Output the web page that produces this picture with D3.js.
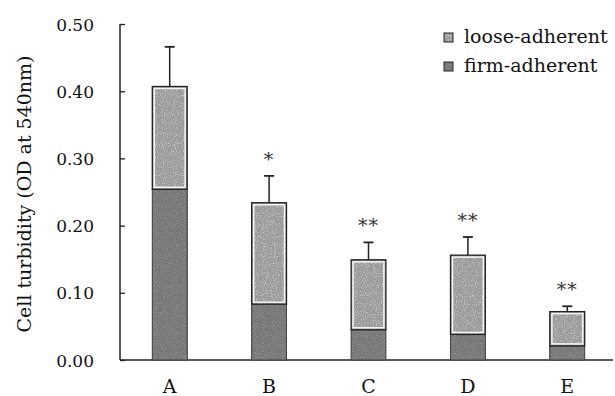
<!DOCTYPE html>
<html>
<head>
<meta charset="utf-8">
<script src="https://cdn.jsdelivr.net/npm/d3@7"></script>
<style>
body { margin: 0; background: #fff; }
</style>
</head>
<body>
<div class="container"></div>
<script>
const groups = ['A', 'B', 'C', 'D', 'E'];
const firmAdherent = [0.254, 0.083, 0.045, 0.038, 0.021];
const looseAdherent = [0.153, 0.151, 0.104, 0.118, 0.051];
const errors = [0.059, 0.040, 0.026, 0.027, 0.008];
const marks = ['', '*', '**', '**', '**'];
const yTicks = [0, 0.1, 0.2, 0.3, 0.4, 0.5];
const seriesNames = ['loose-adherent', 'firm-adherent'];

const WIDTH = 615;
const HEIGHT = 396;
const LEFT = 120, RIGHT = 617, TOP = 24, BOTTOM = 360;
const FONT = '"DejaVu Serif", "Liberation Serif", serif';

var svg = d3.select('.container').append('svg')
	.attr('width', WIDTH)
	.attr('height', HEIGHT)
	.attr('font-family', FONT);

// speckled textures
var defs = svg.append('defs');
var makeNoise = function(id, base, seed, amt){
	var f = defs.append('filter').attr('id', id)
		.attr('x', 0).attr('y', 0).attr('width', 1).attr('height', 1);
	f.append('feFlood').attr('flood-color', base).attr('result', 'base');
	f.append('feTurbulence').attr('type', 'fractalNoise')
		.attr('baseFrequency', 0.9).attr('numOctaves', 2).attr('seed', seed).attr('result', 'noise');
	f.append('feColorMatrix').attr('in', 'noise').attr('type', 'matrix')
		.attr('values', '0 0 0 0 1  0 0 0 0 1  0 0 0 0 1  ' + (amt) + ' 0 0 0 ' + (-amt / 2))
		.attr('result', 'spk');
	f.append('feComposite').attr('in', 'spk').attr('in2', 'base').attr('operator', 'over');
};
makeNoise('noiseLoose', '#9a9a9a', 3, 1.4);
makeNoise('noiseFirm', '#777777', 7, 0.5);

var xScale = d3.scaleBand()
	.domain(groups)
	.range([LEFT, RIGHT])
	.paddingInner(0.65)
	.paddingOuter(0.325);

var yScale = d3.scaleLinear()
	.domain([0, 0.5])
	.range([BOTTOM, TOP]);

var yAxis = d3.axisRight(yScale)
	.tickValues(yTicks)
	.tickSize(5)
	.tickFormat(d3.format('.2f'));

var yg = svg.append('g')
	.attr('transform', 'translate(' + LEFT + ',0)')
	.call(yAxis)
	.attr('font-family', FONT)
	.attr('font-size', 17);
yg.select('.domain').remove();
yg.selectAll('line').attr('stroke', '#222').attr('stroke-width', 1.3);
yg.selectAll('text')
	.attr('x', -26)
	.attr('text-anchor', 'end')
	.attr('dy', '0.36em')
	.attr('fill', '#111');

svg.append('line')
	.attr('x1', LEFT).attr('x2', LEFT)
	.attr('y1', yScale(0.5)).attr('y2', BOTTOM)
	.attr('stroke', '#222').attr('stroke-width', 1.5);

svg.append('line')
	.attr('x1', LEFT).attr('x2', 613)
	.attr('y1', BOTTOM).attr('y2', BOTTOM)
	.attr('stroke', '#222').attr('stroke-width', 1.5);

// x labels
svg.selectAll('.xlab').data(groups).enter().append('text')
	.attr('class', 'xlab')
	.attr('x', function(d){ return xScale(d) + xScale.bandwidth() / 2; })
	.attr('y', 393)
	.attr('text-anchor', 'middle')
	.attr('font-size', 19)
	.attr('fill', '#111')
	.text(function(d){ return d; });

// y label
svg.append('text')
	.attr('transform', 'translate(31,' + ((TOP + BOTTOM) / 2 + 2) + ') rotate(-90)')
	.attr('text-anchor', 'middle')
	.attr('font-size', 19)
	.attr('fill', '#111')
	.text('Cell turbidity (OD at 540nm)');

var data = groups.map(function(g, i){
	return { g: g, firm: firmAdherent[i], loose: looseAdherent[i], err: errors[i], mark: marks[i] };
});

var bars = svg.selectAll('.bar').data(data).enter().append('g').attr('class', 'bar');
var bw = xScale.bandwidth();

// firm segment
bars.append('rect')
	.attr('x', function(d){ return xScale(d.g); })
	.attr('y', function(d){ return yScale(d.firm); })
	.attr('width', bw)
	.attr('height', function(d){ return BOTTOM - yScale(d.firm); })
	.attr('filter', 'url(#noiseFirm)');
bars.append('rect')
	.attr('x', function(d){ return xScale(d.g); })
	.attr('y', function(d){ return yScale(d.firm); })
	.attr('width', bw)
	.attr('height', function(d){ return BOTTOM - yScale(d.firm); })
	.attr('fill', 'none').attr('stroke', '#444').attr('stroke-width', 1);

// loose segment
bars.append('rect')
	.attr('x', function(d){ return xScale(d.g); })
	.attr('y', function(d){ return yScale(d.firm + d.loose); })
	.attr('width', bw)
	.attr('height', function(d){ return yScale(d.firm) - yScale(d.firm + d.loose); })
	.attr('filter', 'url(#noiseLoose)');
bars.append('rect')
	.attr('x', function(d){ return xScale(d.g) + 2; })
	.attr('y', function(d){ return yScale(d.firm + d.loose) + 2; })
	.attr('width', bw - 4)
	.attr('height', function(d){ return yScale(d.firm) - yScale(d.firm + d.loose) - 4; })
	.attr('fill', 'none').attr('stroke', '#f4f4f4').attr('stroke-width', 1.5);
bars.append('rect')
	.attr('x', function(d){ return xScale(d.g); })
	.attr('y', function(d){ return yScale(d.firm + d.loose); })
	.attr('width', bw)
	.attr('height', function(d){ return yScale(d.firm) - yScale(d.firm + d.loose); })
	.attr('fill', 'none').attr('stroke', '#222').attr('stroke-width', 1.3);

// error bars
var cx = function(d){ return xScale(d.g) + bw / 2; };
bars.append('line')
	.attr('x1', cx).attr('x2', cx)
	.attr('y1', function(d){ return yScale(d.firm + d.loose); })
	.attr('y2', function(d){ return yScale(d.firm + d.loose + d.err); })
	.attr('stroke', '#222').attr('stroke-width', 1.5);
bars.append('line')
	.attr('x1', function(d){ return cx(d) - 5; })
	.attr('x2', function(d){ return cx(d) + 5; })
	.attr('y1', function(d){ return yScale(d.firm + d.loose + d.err); })
	.attr('y2', function(d){ return yScale(d.firm + d.loose + d.err); })
	.attr('stroke', '#222').attr('stroke-width', 1.8);

// significance marks
bars.append('text')
	.attr('x', cx)
	.attr('y', function(d){ return yScale(d.firm + d.loose + d.err) - 10; })
	.attr('text-anchor', 'middle')
	.attr('letter-spacing', '1px')
	.attr('font-size', 19)
	.attr('fill', '#333')
	.text(function(d){ return d.mark; });

// legend
var legend = svg.append('g').attr('transform', 'translate(444,33)');
var lg = legend.selectAll('g').data(seriesNames).enter().append('g')
	.attr('transform', function(d, i){ return 'translate(0,' + (i * 29) + ')'; });
lg.append('rect')
	.attr('width', 9).attr('height', 9)
	.attr('filter', function(d, i){ return i === 0 ? 'url(#noiseLoose)' : 'url(#noiseFirm)'; });
lg.append('rect')
	.attr('width', 9).attr('height', 9)
	.attr('fill', 'none').attr('stroke', '#222').attr('stroke-width', 1);
lg.append('text')
	.attr('x', 20)
	.attr('y', 10)
	.attr('font-size', 19)
	.attr('fill', '#111')
	.text(function(d){ return d; });
</script>
</body>
</html>
